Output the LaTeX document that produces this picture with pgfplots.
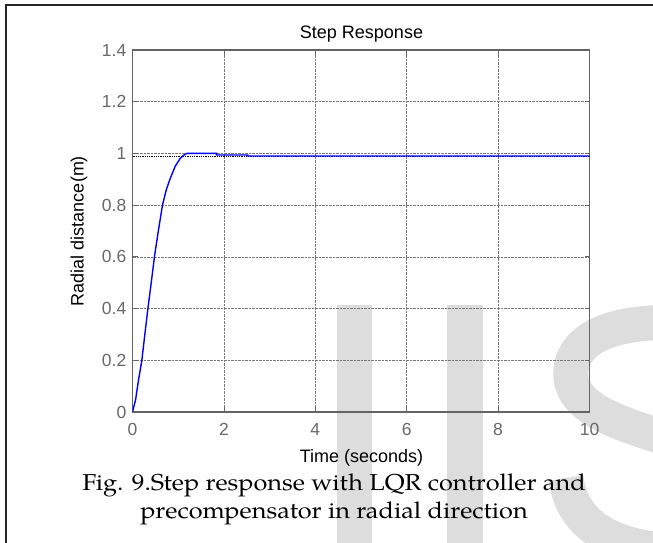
\documentclass[border=0pt]{standalone}
\usepackage{pgfplots}
\pgfplotsset{compat=1.18}
\usepackage{fontspec}
\setmainfont{Liberation Sans}
\newfontfamily\capfont{TeX Gyre Pagella}
\definecolor{wm}{RGB}{221,221,221}
\definecolor{axgray}{RGB}{100,100,100}
\definecolor{gridgray}{RGB}{120,120,120}
\definecolor{ticklab}{RGB}{105,105,105}
\definecolor{mblue}{RGB}{0,0,255}

\pgfplotstableread{
t v
0 0
0.07 0.05
0.12 0.11
0.205 0.2
0.27 0.3
0.337 0.4
0.41 0.5
0.48 0.6
0.565 0.7
0.656 0.8
0.74 0.86
0.825 0.903
0.934 0.95
1.04 0.98
1.12 0.993
1.19 1.0
1.84 1.0
1.84 0.994
2.52 0.994
2.52 0.99
10 0.99
}\steptable

\begin{document}
\begin{tikzpicture}[x=1pt,y=1pt]
\useasboundingbox (0,0) rectangle (653,543);
\fill[white] (0,0) rectangle (653,543);
% watermark
\begin{scope}
\clip (0,0) rectangle (653,543);
\begin{scope}[shift={(0,543)},yscale=-1]
\fill[wm] (337,305) rectangle (372,560);
\fill[wm] (447,305) rectangle (483,560);
\draw[wm,line width=35] (690,323) .. controls (600,318) and (568,345) .. (571,378) .. controls (575,410) and (620,425) .. (690,445);
\draw[wm,line width=35] (566,478) .. controls (572,525) and (610,550) .. (690,552);
\end{scope}
\end{scope}
% frame
\draw[line width=2.5, black!85] (6,0) -- (6,538) -- (653,538);

\begin{axis}[
  at={(132.5pt,131pt)}, anchor=south west,
  scale only axis, width=457pt, height=362pt,
  xmin=0, xmax=10, ymin=0, ymax=1.4,
  xtick={0,2,4,6,8,10},
  ytick={0,0.2,0.4,0.6,0.8,1,1.2,1.4},
  yticklabels={0,0.2,0.4,0.6,0.8,1,1.2,1.4},
  /pgf/number format/assume math mode=true,
  grid=major,
  grid style={densely dotted, gridgray, line width=0.7pt},
  axis line style={axgray, line width=1.3pt},
  tick style={axgray, line width=0.8pt},
  tick align=inside, major tick length=5pt,
  xticklabel style={ticklab, font=\fontsize{17.5}{18}\selectfont, inner sep=0pt, anchor=north, yshift=-11pt},
  yticklabel style={ticklab, font=\fontsize{17.5}{18}\selectfont, inner sep=0pt, anchor=east, xshift=-6pt},
  axis background/.style={fill=none},
]
\addplot[black, densely dotted, line width=0.8pt] coordinates {(0,0.99) (10,0.99)};
\addplot[mblue, line width=1.4pt] table[x=t,y=v] {\steptable};
\end{axis}

% title and labels
\node[anchor=base, font=\fontsize{18}{20}\selectfont, inner sep=0pt] at (361.5,504) {Step Response};
\node[anchor=base, font=\fontsize{18}{20}\selectfont, inner sep=0pt] at (361.5,80) {Time (seconds)};
\node[rotate=90, anchor=center, font=\fontsize{18}{20}\selectfont, inner sep=0pt] at (79,312) {Radial distance(m)};
% caption
\node[anchor=base, font=\capfont\fontsize{23}{26}\selectfont, inner sep=0pt] at (334,52) {\scalebox{1.1}[1]{Fig. 9.Step response with LQR controller and}};
\node[anchor=base, font=\capfont\fontsize{23}{26}\selectfont, inner sep=0pt] at (334,24) {\scalebox{1.1}[1]{precompensator in radial direction}};
\end{tikzpicture}
\end{document}
